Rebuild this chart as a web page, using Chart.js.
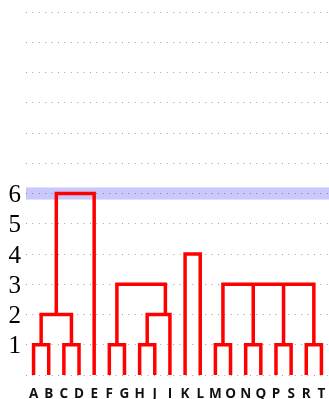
<!DOCTYPE html>
<html>
<head>
<meta charset="utf-8">
<script src="https://cdn.jsdelivr.net/npm/chart.js@4"></script>
<style>
  html, body { margin: 0; padding: 0; background: #fff; }
  #wrap { width: 329px; height: 399px; }
</style>
</head>
<body>
<div id="wrap"><canvas id="chart"></canvas></div>
<script>
// leaves, in dendrogram order
const leaves = ["A", "B", "C", "D", "E", "F", "G", "H", "J", "I",
  "K", "L", "M", "O", "N", "Q", "P", "S", "R", "T"];

// each merge: height, x of its children, height each child starts from
const mergeHeights = [1, 1, 2, 6, 1, 1, 2, 3, 4, 1, 1, 1, 1, 3];
const mergeChildX = [
  [0, 1], [2, 3], [0.5, 2.5], [1.5, 4],
  [5, 6], [7, 8], [7.5, 9], [5.5, 8.7],
  [10, 11],
  [12, 13], [14, 15], [16, 17], [18, 19], [12.5, 14.5, 16.5, 18.5],
];
const mergeChildY = [
  [0, 0], [0, 0], [1, 1], [2, 0],
  [0, 0], [0, 0], [1, 0], [1, 2],
  [0, 0],
  [0, 0], [0, 0], [0, 0], [0, 0], [1, 1, 1, 1],
];

const yTickLabels = ["", "1", "2", "3", "4", "5", "6", "", "", "", "", "", ""];
const band = [5.8, 6.2];

// build one polyline per merge (outer legs + bar, then inner legs)
const datasets = mergeHeights.map((h, m) => {
  const xs = mergeChildX[m];
  const ys = mergeChildY[m];
  const last = xs.length - 1;
  const pts = [
    { x: xs[0], y: ys[0] }, { x: xs[0], y: h },
    { x: xs[last], y: h }, { x: xs[last], y: ys[last] },
  ];
  for (let i = 1; i < last; i++) {
    pts.push({ x: xs[i], y: null });
    pts.push({ x: xs[i], y: h }, { x: xs[i], y: ys[i] });
  }
  return {
    data: pts,
    borderColor: "#ff0000",
    borderWidth: 3.5,
    pointRadius: 0,
    tension: 0,
    spanGaps: false,
    borderJoinStyle: "miter",
  };
});

const bandPlugin = {
  id: "band",
  beforeDraw(chart) {
    const { ctx, chartArea, scales } = chart;
    const top = scales.y.getPixelForValue(band[1]);
    const bottom = scales.y.getPixelForValue(band[0]);
    ctx.save();
    ctx.fillStyle = "#c8c8fc";
    ctx.fillRect(chartArea.left, top, chartArea.right - chartArea.left, bottom - top);
    ctx.restore();
  },
};

new Chart(document.querySelector("#chart").getContext("2d"), {
  type: "line",
  data: { datasets },
  options: {
    responsive: true,
    maintainAspectRatio: false,
    animation: false,
    layout: { padding: { top: 12, left: 0, right: 0, bottom: 0 } },
    plugins: { legend: { display: false }, tooltip: { enabled: false } },
    scales: {
      x: {
        type: "linear",
        min: -0.5,
        max: 19.5,
        afterBuildTicks: (axis) => {
          axis.ticks = leaves.map((_, i) => ({ value: i }));
        },
        afterFit: (axis) => {
          axis.height = 24;
          axis.paddingLeft = 0;
          axis.paddingRight = 0;
        },
        grid: { display: false, drawTicks: false },
        border: { display: false },
        ticks: {
          autoSkip: false,
          maxRotation: 0,
          padding: 11,
          color: "#111",
          font: { family: "Open Sans", size: 13.5, weight: "700" },
          callback: (v, i) => leaves[i],
        },
      },
      y: {
        min: 0,
        max: 12,
        afterFit: (axis) => {
          axis.width = 26;
          axis.paddingTop = 0;
          axis.paddingBottom = 0;
        },
        grid: { color: "rgba(0,0,0,0.38)", lineWidth: 1, drawTicks: false },
        border: { display: false, dash: [1, 5.4] },
        ticks: {
          stepSize: 1,
          autoSkip: false,
          padding: 5,
          labelOffset: 2,
          color: "#000",
          font: { family: "Liberation Serif", size: 25 },
          callback: (v) => yTickLabels[v],
        },
      },
    },
  },
  plugins: [bandPlugin],
});
</script>
</body>
</html>
